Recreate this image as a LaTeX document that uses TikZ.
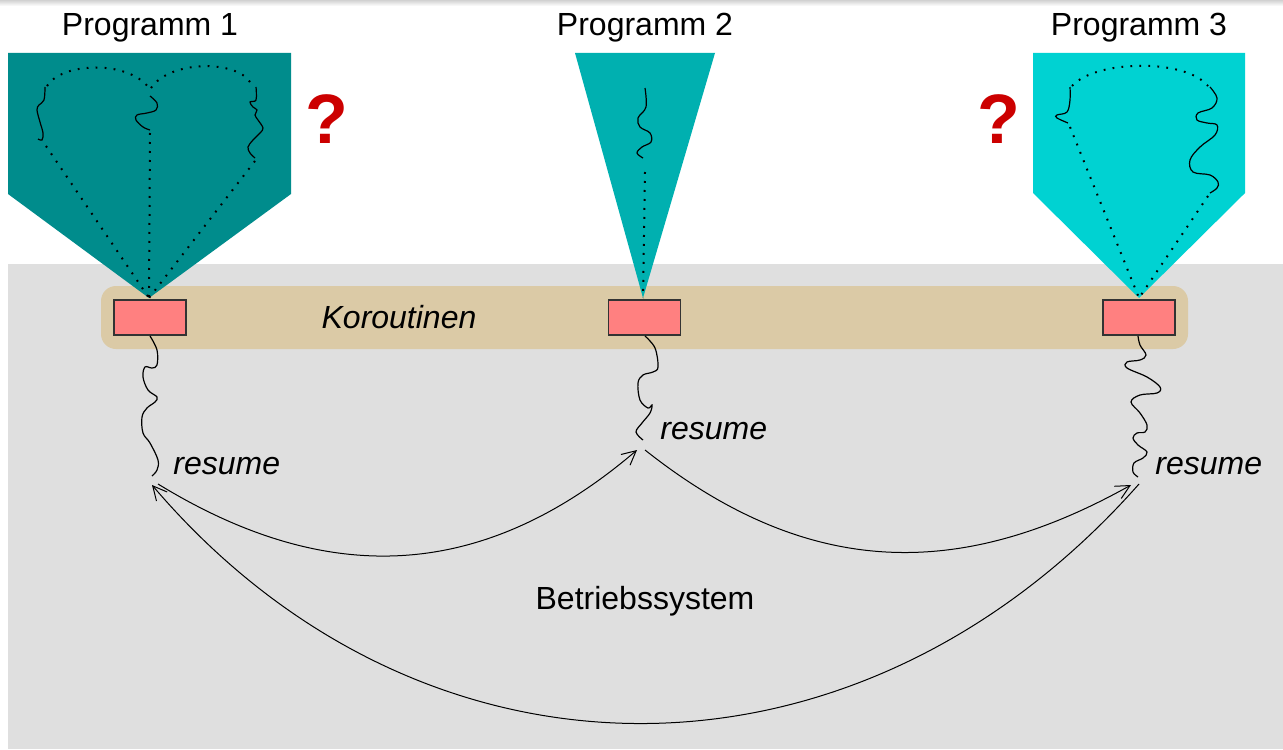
\documentclass[tikz,border=0pt]{standalone}
\usepackage{fontspec}
\setmainfont{Liberation Sans}
\usetikzlibrary{arrows.meta}
\definecolor{progA}{RGB}{0,140,140}
\definecolor{progB}{RGB}{0,176,176}
\definecolor{progC}{RGB}{0,210,210}
\definecolor{tanbar}{RGB}{219,202,166}
\definecolor{pinkbox}{RGB}{255,128,128}
\definecolor{bggray}{RGB}{223,223,223}
\definecolor{qred}{RGB}{204,0,0}
\begin{document}
\begin{tikzpicture}[x=0.5pt,y=-0.5pt,
  lbl/.style={font=\fontsize{16}{19}\selectfont, inner sep=0pt},
  itl/.style={font=\fontsize{16}{19}\selectfont\itshape, inner sep=0pt},
  qmark/.style={font=\fontsize{35}{40}\selectfont\bfseries, text=qred, inner sep=0pt},
  corout/.style={draw=black!80, line width=0.7pt, fill=pinkbox, minimum width=36pt, minimum height=17.5pt, inner sep=0pt},
  wig/.style={line width=0.6pt, black},
  dots/.style={line width=1pt, dash pattern=on 0.9pt off 3.6pt, black},
  arc/.style={line width=0.5pt, -{Straight Barb[length=7pt,width=7pt]}},
]
\useasboundingbox (0,0) rectangle (1283,749);
\fill[white] (0,0) rectangle (1283,749);
\shade[top color=black!18, bottom color=white] (0,0) rectangle (1283,6);
% background areas
\fill[bggray] (8,264) rectangle (1283,749);
\fill[tanbar, rounded corners=7.5pt] (101,286) rectangle (1188,349);
% program shapes
\coordinate (t1) at (149,298);
\coordinate (t2) at (643,298);
\coordinate (t3) at (1139,298);
\fill[progA] (8,53) -- (291,53) -- (291,194) -- (t1) -- (8,194) -- cycle;
\fill[progB] (575,53) -- (715,53) -- (t2) -- cycle;
\fill[progC] (1033,53) -- (1245,53) -- (1245,193) -- (t3) -- (1033,193) -- cycle;
% program 1 interior
\draw[dots] (47,86) .. controls (62,62) and (128,60) .. (149,88);
\draw[dots] (151,88) .. controls (170,60) and (236,60) .. (250,82);
\draw[dots] (46,146) -- (t1);
\draw[dots] (150,133) -- (t1);
\draw[dots] (255,161) -- (t1);
\draw[wig] plot[smooth, tension=0.6] coordinates {(45,87) (44,100) (39,105) (37,110) (40,122) (43,133) (42,140) (38,139)};
\draw[wig] plot[smooth, tension=0.6] coordinates {(150,96) (157,103) (156,110) (147,113) (137,115) (136,120) (143,127) (150,130)};
\draw[wig] plot[smooth, tension=0.6] coordinates {(256,87) (256,100) (250,102) (253,107) (257,110) (255,115) (258,120) (263,128) (260,133) (253,140) (248,147) (250,153) (255,158)};
% program 2 interior
\draw[dots] (645,172) -- (t2);
\draw[wig] plot[smooth, tension=0.6] coordinates {(645,88) (646,107) (638,118) (640,127) (650,133) (651,142) (642,147) (637,153) (643,158)};
% program 3 interior
\draw[dots] (1072,86) .. controls (1095,60) and (1185,58) .. (1208,86);
\draw[dots] (1070,127) -- (t3);
\draw[dots] (1208,196) -- (t3);
\draw[wig] plot[smooth, tension=0.6] coordinates {(1070,87) (1070,100) (1067,112) (1057,115) (1057,118) (1068,123)};
\draw[wig] plot[smooth, tension=0.6] coordinates {(1210,87) (1217,98) (1212,108) (1198,113) (1197,120) (1207,123) (1217,125) (1215,135) (1200,147) (1190,160) (1193,172) (1210,175) (1218,182) (1217,188) (1210,193)};
% labels
\node[lbl] (p1) at (150,28) {Programm 1};
\node[lbl] (p2) at (645,28) {Programm 2};
\node[lbl] (p3) at (1139,28) {Programm 3};
\node[qmark] (q1) at (327,119) {?};
\node[qmark] (q2) at (999,119) {?};
% coroutine boxes
\node[corout] (k1) at (150,317.5) {};
\node[corout] (k2) at (644.5,317.5) {};
\node[corout] (k3) at (1139,317.5) {};
\node[itl] (kor) at (399,317) {Koroutinen};
% wiggles below
\draw[wig] plot[smooth, tension=0.6] coordinates {(150,336) (157,350) (157,365) (152,368) (145,367) (143,377) (148,390) (157,397) (155,402) (147,408) (142,417) (143,433) (150,443) (158,460) (157,470) (152,476)};
\draw[wig] plot[smooth, tension=0.6] coordinates {(645,336) (655,348) (658,367) (653,372) (643,375) (638,383) (640,400) (648,408) (652,405) (650,413) (642,423) (636,432) (643,440)};
\draw[wig] plot[smooth, tension=0.6] coordinates {(1138,336) (1140,345) (1146,355) (1140,360) (1127,362) (1127,368) (1147,377) (1160,387) (1157,393) (1140,395) (1131,402) (1140,413) (1147,425) (1145,432) (1137,433) (1133,438) (1138,445) (1147,452) (1143,458) (1134,463) (1133,472) (1138,477)};
\node[itl, anchor=west] (r1) at (173,466) {resume};
\node[itl, anchor=west] (r2) at (660,431) {resume};
\node[itl, anchor=west] (r3) at (1155,466) {resume};
% arrows
\coordinate (s1) at (158,484);
\coordinate (e1) at (152,485);
\coordinate (s2) at (645,450);
\coordinate (e2) at (637,450);
\coordinate (s3) at (1139,484);
\coordinate (e3) at (1131,485);
\draw[arc] (s1) .. controls (323,585) and (479,585) .. (e2);
\draw[arc] (s2) .. controls (809,580) and (961,580) .. (e3);
\draw[arc] (s3) .. controls (857,803) and (423,803) .. (e1);
\node[lbl] (os) at (645,601) {Betriebssystem};
\end{tikzpicture}
\end{document}
